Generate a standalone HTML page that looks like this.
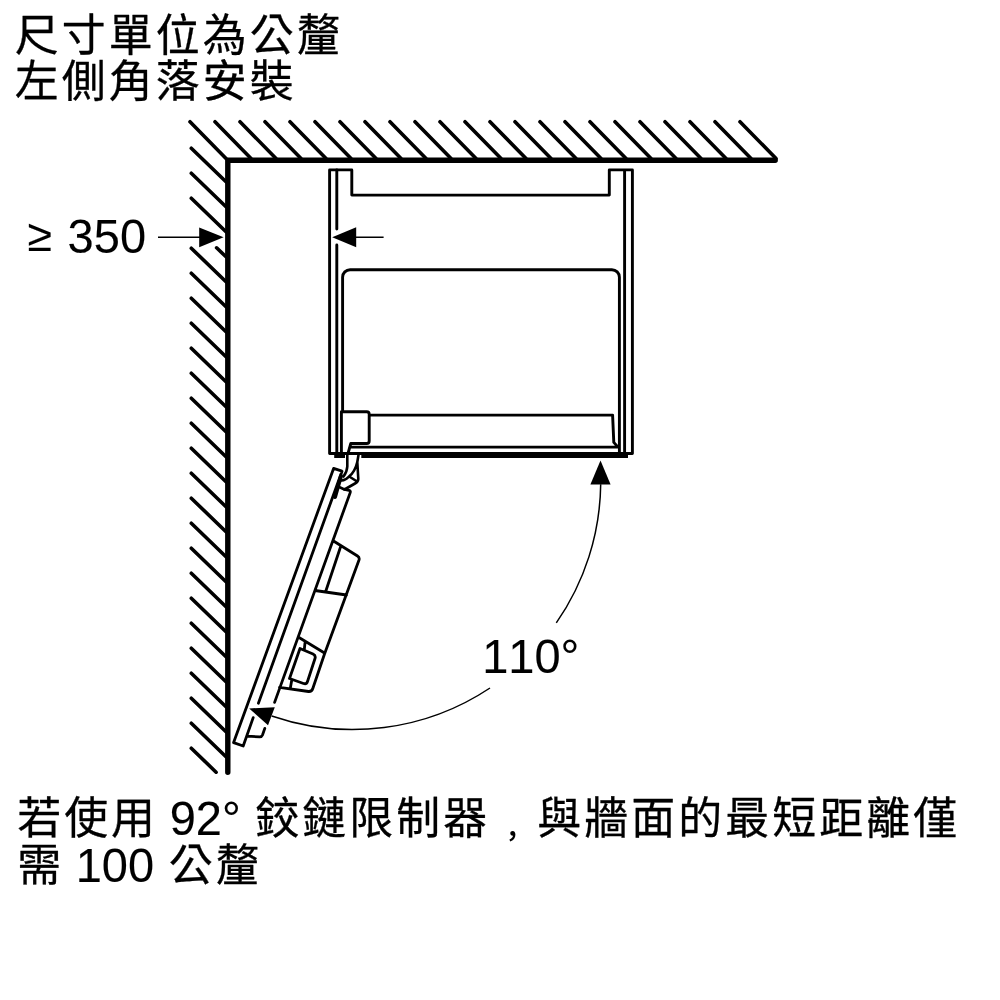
<!DOCTYPE html>
<html lang="zh-Hant">
<head>
<meta charset="utf-8">
<title>左側角落安裝</title>
<style>
html,body{margin:0;padding:0;background:#fff;}
body{width:1000px;height:1000px;position:relative;overflow:hidden;}
#drawing{position:absolute;left:0;top:0;display:block;will-change:transform;}
text{fill:#000;white-space:pre;font-kerning:none;}
.c{font-family:"Liberation Sans","Noto Sans CJK TC",sans-serif;font-size:43.9px;letter-spacing:3.10px;font-weight:400;stroke:#000;stroke-width:0.3px;stroke-linejoin:round;}
.l{font-family:"Liberation Sans","Noto Sans CJK TC",sans-serif;font-size:47px;font-weight:400;stroke:#000;stroke-width:0.12px;stroke-linejoin:round;}
.ge{font-family:"Liberation Sans","Noto Sans CJK TC",sans-serif;font-size:44.5px;font-weight:400;stroke:#000;stroke-width:0.12px;}
.p{font-family:"Liberation Sans","Noto Sans CJK SC",sans-serif;font-size:28.5px;font-weight:500;font-feature-settings:"locl" 0;}
</style>
</head>
<body>
<svg id="drawing" width="1000" height="1000" viewBox="0 0 1000 1000">
<path d="M190.0 121.7L226.0 158.5M215.0 121.7L251.0 158.5M240.0 121.7L276.0 158.5M265.0 121.7L301.0 158.5M290.0 121.7L326.0 158.5M315.0 121.7L351.0 158.5M340.0 121.7L376.0 158.5M365.0 121.7L401.0 158.5M390.0 121.7L426.0 158.5M415.0 121.7L451.0 158.5M440.0 121.7L476.0 158.5M465.0 121.7L501.0 158.5M490.0 121.7L526.0 158.5M515.0 121.7L551.0 158.5M540.0 121.7L576.0 158.5M565.0 121.7L601.0 158.5M590.0 121.7L626.0 158.5M615.0 121.7L651.0 158.5M640.0 121.7L676.0 158.5M665.0 121.7L701.0 158.5M690.0 121.7L726.0 158.5M715.0 121.7L751.0 158.5M740.0 121.7L776.0 158.5M191.3 148.2L226.0 181.8M191.3 173.2L226.0 206.8M191.3 198.2L226.0 231.8M216.6 247.8L226.0 256.8M191.3 248.2L226.0 281.8M191.3 273.2L226.0 306.8M191.3 298.2L226.0 331.8M191.3 323.2L226.0 356.8M191.3 348.2L226.0 381.8M191.3 373.2L226.0 406.8M191.3 398.2L226.0 431.8M191.3 423.2L226.0 456.8M191.3 448.2L226.0 481.8M191.3 473.2L226.0 506.8M191.3 498.2L226.0 531.8M191.3 523.2L226.0 556.8M191.3 548.2L226.0 581.8M191.3 573.2L226.0 606.8M191.3 598.2L226.0 631.8M191.3 623.2L226.0 656.8M191.3 648.2L226.0 681.8M191.3 673.2L226.0 706.8M191.3 698.2L226.0 731.8M191.3 723.2L226.0 756.8M191.3 748.2L216.1 772.2" fill="none" stroke="#000" stroke-width="3.6" stroke-linecap="round"/>
<path d="M775.2 160.2H227.8V772.2" fill="none" stroke="#000" stroke-width="5.4" stroke-linecap="round" stroke-linejoin="miter"/>
<path d="M351.8 195.1V169.9H329.6V453.5H632.4V169.9H609.3V195.1ZM624.6 169.9V455.6M342.6 411.7V277.2A7.5 7.5 0 0 1 350.1 269.7H611.9A7.5 7.5 0 0 1 619.4 277.2V452M341.4 453V411.7H366.7Q369.2 411.7 369.2 414.2V441Q369.2 443.5 366.7 443.5H350.8L348 453.5M369.2 415.1H612.6L613.8 442.4L618 447.1M350.4 447.1H618" fill="none" stroke="#000" stroke-width="2.9" stroke-linejoin="round" stroke-linecap="butt"/>
<path d="M336.8 169.9V229M336.8 245V455.6" fill="none" stroke="#000" stroke-width="2.9" stroke-linecap="round"/>
<path d="M361.3 456.55H628M334.2 456.55H345" fill="none" stroke="#000" stroke-width="2.9"/>
<path d="M347.3 455V466.5Q347 472 343.5 476.5M358.5 455L357.3 462L358.3 479Q358 482 355 483.5L344.5 489.5L339.6 487.2M357.3 462Q355 472 349 476.5Q345 481 341 480.5M350 477L355.5 480.5" fill="none" stroke="#000" stroke-width="2.6" stroke-linejoin="round" stroke-linecap="round"/>
<path d="M258.4 703.2L342 471.2L333.6 468.4L233.6 742.6L243.2 746L253.2 717.6M344.5 489.3L349 490.4Q350.8 490.9 350.2 492.6L274.6 702.4M264.8 728.4L262.5 735Q261.8 736.8 259.8 736.8L247 736.2M333.5 541L357.5 556Q359.8 557.5 359 560L324.5 654L312.8 688.5Q311.8 691.8 308.5 691.5L279.5 687.3M340.5 547L325.5 592M315 590.5L346.5 595M299 637.5L324.5 653M305 643L304.3 649.5M291.6 681L290.4 687.8M300 648.5L313 654Q316 655.5 315 658.5L307.5 681.5Q306.5 684.5 303.5 683.5L289.5 678.5Z" fill="none" stroke="#000" stroke-width="2.8" stroke-linejoin="round" stroke-linecap="round"/>
<path d="M341 476L335 497" fill="none" stroke="#000" stroke-width="4" stroke-linecap="round"/>
<path d="M158 237.2H200M355.5 237.2H383.6" fill="none" stroke="#000" stroke-width="1.5"/>
<path d="M223.6 237.3L199.2 227.6V247.2Z"/>
<path d="M332.2 237.2L356.2 227.3V247.3Z"/>
<path d="M600.7 484.2A248.2 248.2 0 0 1 556.3 622.9M490.0 688.0A248.2 248.2 0 0 1 271.7 716.0" fill="none" stroke="#000" stroke-width="1.5"/>
<path d="M600.5 460.4L590.4 484.5H610.6Z"/>
<path d="M249.2 708.4L274.8 707.2L268 725.2Z"/>
<g id="labels"><text y="50.6" transform="matrix(1 0 0 1.02 0 -1.012)"><tspan class="c" x="14.75">尺寸單位為公釐</tspan></text>
<text y="97.3" transform="matrix(1 0 0 1.02 0 -1.946)"><tspan class="c" x="14.75">左側角落安裝</tspan></text>
<text y="253.2" transform="matrix(1 0 0 1.02 0 -5.064)"><tspan class="ge" x="27.70" dy="-1.70">≥ </tspan><tspan class="l" x="67.63" dy="1.70">350</tspan></text>
<text y="673.2" transform="matrix(1 0 0 1.02 0 -13.464)"><tspan class="l" x="482.20">110°</tspan></text>
<text y="833.9" transform="matrix(1 0 0 1.02 0 -16.678)"><tspan class="c" x="17.15">若使用 </tspan><tspan class="l" x="169.67" dy="1.10">92° </tspan><tspan class="c" x="255.35" dy="-1.10">鉸鏈限制器</tspan><tspan class="p" x="505.20" dy="3.70">，</tspan><tspan class="c" x="537.35" dy="-3.70">與牆面的最短距離僅</tspan></text>
<text y="880.9" transform="matrix(1 0 0 1.02 0 -17.618)"><tspan class="c" x="17.15">需 </tspan><tspan class="l" x="75.67" dy="1.10">100 </tspan><tspan class="c" x="168.68" dy="-1.10">公釐</tspan></text></g>
</svg>
</body>
</html>
